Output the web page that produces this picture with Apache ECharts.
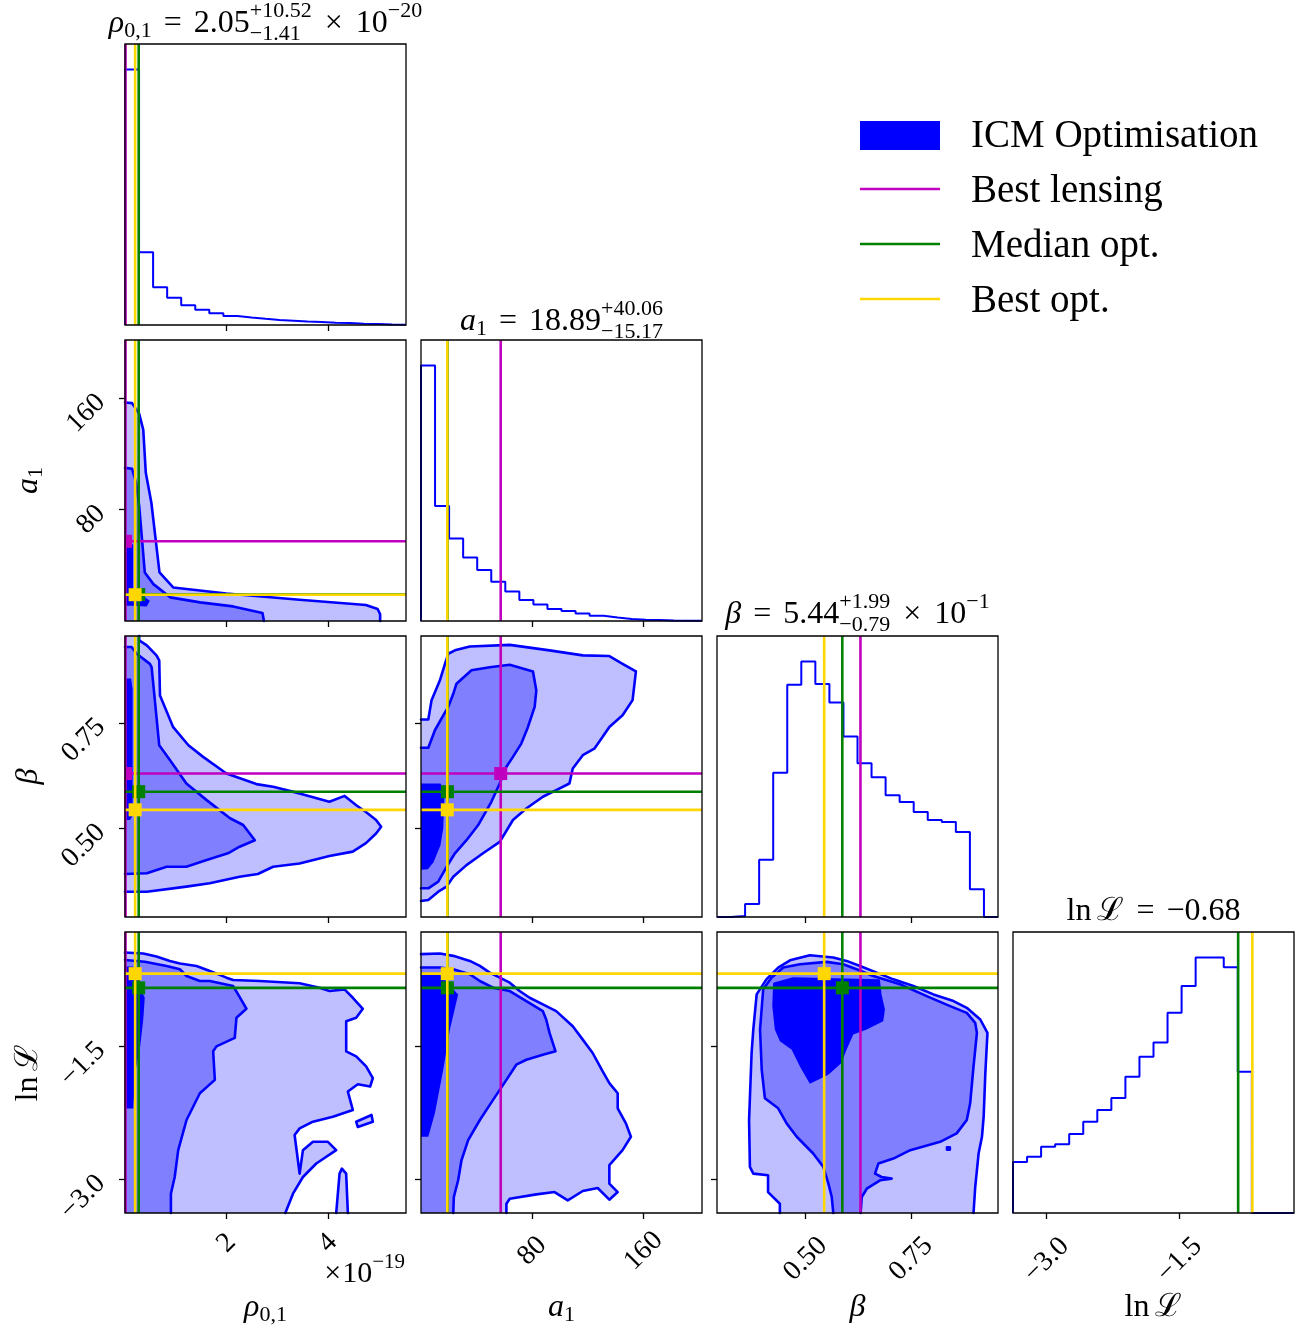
<!DOCTYPE html>
<html>
<head>
<meta charset="utf-8">
<script src="https://cdn.jsdelivr.net/npm/echarts@6/dist/echarts.min.js"></script>
<style>
  html, body { margin: 0; padding: 0; background: #fff; }
  #chart { width: 1304px; height: 1330px; }
</style>
</head>
<body>
<div id="chart"></div>
<script>
// ---------------- parameter ranges and ticks ----------------
// rho_{0,1} is expressed in units of 1e-19
const RHO_RANGE  = [0, 5.54];
const A1_RANGE   = [0, 202];
const BETA_RANGE = [0.29, 0.956];
const LNL_RANGE  = [-3.38, -0.21];

const RHO_TICKS  = [2, 4];
const A1_TICKS   = [80, 160];
const BETA_TICKS = [0.5, 0.75];
const LNL_TICKS  = [-3.0, -1.5];

// ---------------- marginal histograms (20 equal bins over each range, relative counts) ----------------
const RHO_HIST  = [1000, 285, 148, 107, 77, 60, 46, 35, 29, 24, 20, 17, 14, 12, 9, 8, 5, 4, 2, 1];
const A1_HIST   = [1000, 450, 323, 249, 200, 154, 115, 82, 65, 47, 39, 29, 21, 14, 8, 5, 4, 2, 1, 0.5];
const BETA_HIST = [0, 4, 51, 224, 565, 909, 1000, 912, 840, 707, 602, 547, 477, 450, 411, 380, 372, 333, 109, 0];
const LNL_HIST  = [200, 220, 259, 269, 309, 357, 403, 450, 533, 612, 667, 784, 889, 1000, 1000, 962, 553, 0, 0, 0];

// ---------------- reference points: [rho, a1, beta, lnL] ----------------
const BEST_LENSING = [0.01, 57.3, 0.630, null];
const MEDIAN_OPT   = [0.27, 19.0, 0.587, -0.84];
const BEST_OPT     = [0.20, 18.9, 0.544, -0.68];

// ---------------- 2-D credible regions (outer, middle, core) ----------------
// a1 vs rho
const RHO_A1_OUTER = [[0,157.1],[0.14,156.6],[0.28,149],[0.36,137.5],[0.41,106.5],[0.52,85],[0.68,34.9],[0.95,24.1],[2.0,19.8],[3.44,15.3],[4.75,11.5],[4.98,8.6],[5.03,5.0],[5.03,0],[0,0]];
const RHO_A1_MID   = [[0,110.1],[0.14,109.4],[0.22,99.4],[0.28,82.6],[0.33,61.1],[0.39,34.9],[0.56,26.5],[0.89,17],[1.48,13.4],[2.13,10.5],[2.71,5.7],[2.74,0],[0,0]];
const RHO_A1_CORE  = [[0,55.2],[0.16,55.2],[0.16,22.9],[0.49,14.5],[0.43,10.5],[0.13,11],[0,11]];

// beta vs rho
const RHO_BETA_OUTER = [[0,0.956],[0.28,0.956],[0.28,0.9455],[0.43,0.934],[0.62,0.910],[0.675,0.898],[0.69,0.815],[0.95,0.740],[1.25,0.697],[1.54,0.6695],[2.0,0.630],[2.59,0.605],[2.92,0.5985],[3.44,0.583],[4.03,0.563],[4.33,0.577],[4.56,0.555],[4.75,0.539],[4.95,0.520],[5.05,0.504],[4.95,0.488],[4.75,0.465],[4.49,0.445],[4.03,0.4345],[3.44,0.417],[2.92,0.409],[2.62,0.392],[2.26,0.3856],[1.67,0.370],[1.21,0.362],[0.43,0.350],[0,0.350]];
const RHO_BETA_MID   = [[0,0.930],[0.13,0.930],[0.23,0.914],[0.49,0.890],[0.525,0.882],[0.675,0.697],[0.885,0.662],[1.21,0.6065],[1.61,0.567],[2.07,0.524],[2.33,0.508],[2.56,0.472],[2.26,0.4566],[2.03,0.441],[1.61,0.425],[1.21,0.409],[0.82,0.409],[0.43,0.3936],[0,0.392]];
const RHO_BETA_CORE  = [[0,0.855],[0.12,0.855],[0.15,0.83],[0.15,0.53],[0.1,0.52],[0,0.52]];

// beta vs a1
const A1_BETA_OUTER = [[0,0.758],[5.25,0.758],[7.6,0.804],[13.6,0.851],[17.2,0.890],[19.6,0.914],[24.4,0.922],[35.1,0.931],[63.8,0.935],[92.4,0.922],[116.3,0.910],[135.4,0.9085],[144.9,0.890],[154.5,0.872],[152.1,0.804],[144.9,0.768],[135.4,0.7405],[130.6,0.717],[124.6,0.689],[116.3,0.6735],[109.1,0.642],[106.7,0.6064],[97.2,0.5907],[87.6,0.575],[75.7,0.547],[66.1,0.520],[56.6,0.468],[44.6,0.441],[32.7,0.413],[23.2,0.3856],[18.4,0.362],[12.4,0.350],[5.25,0.3304],[0,0.328]];
const A1_BETA_MID   = [[0,0.691],[5.25,0.691],[10.0,0.7326],[16.0,0.768],[19.6,0.788],[23.2,0.819],[25.5,0.843],[36.3,0.875],[49.4,0.882],[63.8,0.888],[80.5,0.872],[82.9,0.827],[81.7,0.788],[76.9,0.7405],[72.1,0.701],[66.1,0.6695],[61.4,0.646],[56.6,0.6064],[50.6,0.563],[41.1,0.508],[32.7,0.472],[24.4,0.441],[18.4,0.409],[12.4,0.374],[5.25,0.358],[0,0.358]];
const A1_BETA_CORE  = [[0,0.6064],[14,0.6064],[17,0.59],[16,0.50],[14,0.46],[9,0.42],[5,0.403],[0,0.402]];

// lnL vs rho
const RHO_LNL_OUTER  = [[0,-0.441],[0.36,-0.453],[0.62,-0.487],[0.885,-0.536],[1.082,-0.566],[1.41,-0.593],[1.672,-0.649],[2.0,-0.725],[2.131,-0.751],[2.656,-0.763],[3.443,-0.789],[3.836,-0.838],[4.033,-0.876],[4.328,-0.857],[4.492,-0.952],[4.689,-1.076],[4.558,-1.178],[4.361,-1.216],[4.361,-1.556],[4.558,-1.613],[4.754,-1.726],[4.886,-1.859],[4.833,-1.953],[4.59,-1.927],[4.394,-2.010],[4.492,-2.218],[4.099,-2.293],[3.705,-2.350],[3.443,-2.425],[3.344,-2.5],[3.443,-2.936],[3.508,-2.671],[3.705,-2.577],[4.0,-2.577],[4.164,-2.671],[3.771,-2.822],[3.508,-2.974],[3.312,-3.162],[3.161,-3.38],[0,-3.38]];
const RHO_LNL_ISLAND = [[4.558,-2.35],[4.86,-2.274],[4.886,-2.35],[4.59,-2.41]];
const RHO_LNL_SPIKE  = [[4.164,-3.38],[4.23,-2.936],[4.276,-2.879],[4.36,-2.936],[4.394,-3.38]];
const RHO_LNL_MID    = [[0,-0.525],[0.39,-0.545],[0.82,-0.593],[1.082,-0.630],[1.213,-0.706],[1.476,-0.763],[1.672,-0.763],[2.131,-0.819],[2.23,-0.914],[2.394,-1.076],[2.197,-1.178],[2.164,-1.405],[1.803,-1.5],[1.738,-1.556],[1.771,-1.878],[1.476,-2.029],[1.213,-2.331],[1.049,-2.671],[0.98,-2.974],[0.905,-3.162],[0.905,-3.38],[0,-3.38]];
const RHO_LNL_CORE   = [[0,-0.60],[0.16,-0.60],[0.30,-0.85],[0.39,-0.95],[0.36,-1.2],[0.30,-1.5],[0.2,-1.8],[0.164,-2.2],[0,-2.2]];

// lnL vs a1
const A1_LNL_OUTER = [[0,-0.460],[13.6,-0.453],[23.2,-0.479],[35.1,-0.536],[42.3,-0.593],[49.4,-0.668],[56.6,-0.725],[63.8,-0.782],[70.9,-0.876],[78.1,-0.952],[87.6,-1.027],[97.2,-1.103],[109.1,-1.273],[116.3,-1.424],[123.4,-1.575],[130.6,-1.783],[135.4,-1.915],[141.4,-2.029],[141.4,-2.199],[147.3,-2.369],[150.9,-2.520],[144.9,-2.671],[135.4,-2.841],[135.4,-3.049],[141.4,-3.144],[135.4,-3.230],[127.0,-3.098],[116.3,-3.132],[105.5,-3.238],[96.0,-3.144],[82.9,-3.170],[63.8,-3.219],[61.4,-3.276],[61.4,-3.38],[0,-3.38]];
const A1_LNL_MID   = [[0,-0.611],[13.6,-0.611],[23.2,-0.630],[35.1,-0.687],[42.3,-0.763],[51.8,-0.838],[63.8,-0.876],[75.7,-0.989],[87.6,-1.103],[90.0,-1.197],[92.4,-1.348],[96.7,-1.556],[87.6,-1.594],[75.7,-1.651],[68.5,-1.707],[61.4,-1.878],[51.8,-2.104],[42.3,-2.331],[33.9,-2.558],[29.1,-2.785],[26.7,-3.011],[23.6,-3.200],[23.2,-3.38],[0,-3.38]];
const A1_LNL_CORE  = [[0,-0.687],[13.6,-0.687],[23.2,-0.857],[26.7,-0.914],[20.8,-1.311],[16.0,-1.764],[10.0,-2.255],[5.25,-2.520],[0,-2.520]];

// lnL vs beta
const BETA_LNL_OUTER = [[0.439,-3.38],[0.439,-3.276],[0.411,-3.144],[0.411,-2.955],[0.376,-2.936],[0.368,-2.860],[0.366,-2.331],[0.372,-1.575],[0.376,-1.311],[0.384,-0.914],[0.407,-0.744],[0.435,-0.611],[0.463,-0.530],[0.510,-0.472],[0.5656,-0.498],[0.597,-0.536],[0.629,-0.593],[0.6685,-0.668],[0.708,-0.744],[0.7555,-0.819],[0.803,-0.914],[0.8505,-0.989],[0.882,-1.065],[0.914,-1.197],[0.931,-1.348],[0.926,-1.802],[0.922,-2.293],[0.918,-2.520],[0.910,-2.709],[0.902,-3.087],[0.898,-3.38]];
const BETA_LNL_MID   = [[0.5656,-3.38],[0.562,-3.200],[0.554,-3.049],[0.542,-2.860],[0.518,-2.709],[0.479,-2.520],[0.455,-2.369],[0.435,-2.199],[0.4035,-2.085],[0.396,-1.764],[0.392,-1.311],[0.3995,-0.857],[0.419,-0.725],[0.447,-0.611],[0.4865,-0.574],[0.550,-0.547],[0.589,-0.574],[0.621,-0.630],[0.6605,-0.706],[0.724,-0.800],[0.787,-0.933],[0.8425,-1.046],[0.882,-1.122],[0.902,-1.235],[0.906,-1.348],[0.898,-1.726],[0.890,-2.142],[0.882,-2.331],[0.858,-2.482],[0.819,-2.577],[0.748,-2.671],[0.708,-2.766],[0.6725,-2.822],[0.6645,-2.936],[0.680,-2.974],[0.704,-2.992],[0.6764,-3.011],[0.645,-3.106],[0.633,-3.200],[0.6305,-3.38]];
const BETA_LNL_CORE  = [[0.423,-0.782],[0.47,-0.72],[0.676,-0.744],[0.68,-0.914],[0.688,-1.084],[0.684,-1.216],[0.645,-1.311],[0.613,-1.367],[0.597,-1.537],[0.585,-1.689],[0.554,-1.821],[0.510,-1.923],[0.4865,-1.726],[0.467,-1.537],[0.439,-1.443],[0.427,-1.311],[0.421,-1.046]];
const BETA_LNL_DOT   = [[0.835,-2.64],[0.842,-2.64],[0.842,-2.665],[0.835,-2.665]];

// ---------------- text ----------------
const TITLE_ROWS = [
  [{t:'ρ', it:true}, {sub:'0,1'}, {gap:12}, {t:'='}, {gap:12}, {t:'2.05'}, {sup:'+10.52', sub:'\u22121.41'}, {gap:13}, {t:'×'}, {gap:13}, {t:'10'}, {sup:'\u221220'}],
  [{t:'a', it:true}, {sub:'1'}, {gap:12}, {t:'='}, {gap:12}, {t:'18.89'}, {sup:'+40.06', sub:'\u221215.17'}],
  [{t:'β', it:true}, {gap:12}, {t:'='}, {gap:12}, {t:'5.44'}, {sup:'+1.99', sub:'\u22120.79'}, {gap:13}, {t:'×'}, {gap:13}, {t:'10'}, {sup:'\u22121'}],
  [{t:'ln'}, {gap:6}, {t:'ℒ'}, {gap:12}, {t:'='}, {gap:12}, {t:'\u22120.68'}]
];
const AXIS_NAMES = [
  [{t:'ρ', it:true}, {sub:'0,1'}],
  [{t:'a', it:true}, {sub:'1'}],
  [{t:'β', it:true}],
  [{t:'ln'}, {gap:6}, {t:'ℒ'}]
];
const OFFSET_TEXT = [{t:'×'}, {gap:1}, {t:'10'}, {sup:'\u221219'}];
const LEGEND_LABELS = ['ICM Optimisation', 'Best lensing', 'Median opt.', 'Best opt.'];

// ---------------- styling / layout ----------------
const SERIF = '"Liberation Serif", "DejaVu Serif", serif';
const C_BLUE = '#0000ff', C_MID = '#8080ff', C_LIGHT = '#bfbfff';
const C_MAGENTA = '#bf00bf', C_GREEN = '#008000', C_GOLD = '#ffd700';
const COL_LEFT = [125, 421, 717, 1013];
const ROW_TOP = [44, 340, 636, 932];
const CELL = 281;
const COL_CENTER = COL_LEFT.map(v => v + CELL / 2);
const ROW_CENTER = ROW_TOP.map(v => v + CELL / 2);
const TICK_FONT = 28;
const TITLE_FONT = 32;

const RANGES = [RHO_RANGE, A1_RANGE, BETA_RANGE, LNL_RANGE];
const TICKS = [RHO_TICKS, A1_TICKS, BETA_TICKS, LNL_TICKS];
const HISTS = [RHO_HIST, A1_HIST, BETA_HIST, LNL_HIST];
const fmtMinus = s => s.replace('-', '\u2212');
const LABEL_FMT = [v => String(v), v => String(v), v => v.toFixed(2), v => fmtMinus(v.toFixed(1))];
const X_LABEL_MARGIN = [30, 38, 46, 47];

// contour sets per lower panel: key "row,col" -> list of [polygon, fill, stroked]
const REGIONS = {
  '1,0': [[RHO_A1_OUTER, C_LIGHT, true], [RHO_A1_MID, C_MID, true], [RHO_A1_CORE, C_BLUE, false]],
  '2,0': [[RHO_BETA_OUTER, C_LIGHT, true], [RHO_BETA_MID, C_MID, true], [RHO_BETA_CORE, C_BLUE, false]],
  '2,1': [[A1_BETA_OUTER, C_LIGHT, true], [A1_BETA_MID, C_MID, true], [A1_BETA_CORE, C_BLUE, false]],
  '3,0': [[RHO_LNL_OUTER, C_LIGHT, true], [RHO_LNL_ISLAND, C_LIGHT, true], [RHO_LNL_SPIKE, C_LIGHT, true], [RHO_LNL_MID, C_MID, true], [RHO_LNL_CORE, C_BLUE, false]],
  '3,1': [[A1_LNL_OUTER, C_LIGHT, true], [A1_LNL_MID, C_MID, true], [A1_LNL_CORE, C_BLUE, false]],
  '3,2': [[BETA_LNL_OUTER, C_LIGHT, true], [BETA_LNL_MID, C_MID, true], [BETA_LNL_CORE, C_BLUE, false], [BETA_LNL_DOT, C_MID, true]]
};
const REFERENCES = [[BEST_LENSING, C_MAGENTA], [MEDIAN_OPT, C_GREEN], [BEST_OPT, C_GOLD]];

// ---------------- series builders ----------------
function regionSeries(g, pts, fill, stroked, xr, yr) {
  const onFrame = (a, b) =>
    (a[0] === b[0] && (a[0] === xr[0] || a[0] === xr[1])) ||
    (a[1] === b[1] && (a[1] === yr[0] || a[1] === yr[1]));
  const line = P => ({ type: 'polyline', shape: { points: P },
    style: { fill: 'none', stroke: C_BLUE, lineWidth: 2.6, lineJoin: 'round', lineCap: 'round' } });
  return {
    type: 'custom', xAxisIndex: g, yAxisIndex: g, data: pts, silent: true, animation: false, z: 2,
    renderItem(params, api) {
      if (params.dataIndex !== 0) return null;
      const P = pts.map(p => api.coord(p));
      const children = [{ type: 'polygon', shape: { points: P }, style: { fill, stroke: 'none' } }];
      if (stroked) {
        const n = pts.length;
        let run = [P[0]];
        for (let k = 0; k < n; k++) {
          const k2 = (k + 1) % n;
          if (onFrame(pts[k], pts[k2])) {
            if (run.length > 1) children.push(line(run));
            run = [P[k2]];
          } else {
            run.push(P[k2]);
          }
        }
        if (run.length > 1) children.push(line(run));
      }
      return { type: 'group', children };
    }
  };
}

function guideSeries(g, xv, yv, color, xr, yr) {
  return {
    type: 'custom', xAxisIndex: g, yAxisIndex: g, silent: true, animation: false, z: 4,
    data: [[xv == null ? xr[0] : xv, yv == null ? yr[0] : yv]],
    renderItem(params, api) {
      const cs = params.coordSys;
      const kids = [];
      const st = { stroke: color, lineWidth: 2.6, fill: 'none' };
      if (xv != null) {
        const px = api.coord([xv, yr[0]])[0];
        kids.push({ type: 'line', shape: { x1: px, y1: cs.y, x2: px, y2: cs.y + cs.height }, style: st });
      }
      if (yv != null) {
        const py = api.coord([xr[0], yv])[1];
        kids.push({ type: 'line', shape: { x1: cs.x, y1: py, x2: cs.x + cs.width, y2: py }, style: st });
      }
      if (xv != null && yv != null) {
        const p = api.coord([xv, yv]);
        const r = echarts.graphic.clipRectByRect(
          { x: p[0] - 6.5, y: p[1] - 6.5, width: 13, height: 13 },
          { x: cs.x, y: cs.y, width: cs.width, height: cs.height });
        if (r) kids.push({ type: 'rect', shape: r, style: { fill: color } });
      }
      return { type: 'group', children: kids };
    }
  };
}

function histSeries(g, c) {
  const r = RANGES[c], counts = HISTS[c], nb = counts.length;
  const edge = i => r[0] + i * (r[1] - r[0]) / nb;
  const pts = [[edge(0), 0]];
  counts.forEach((v, i) => { pts.push([edge(i), v], [edge(i + 1), v]); });
  pts.push([edge(nb), 0]);
  return { type: 'line', xAxisIndex: g, yAxisIndex: g, data: pts, symbol: 'none', silent: true,
    animation: false, z: 3, lineStyle: { color: C_BLUE, width: 2 } };
}

// ---------------- grids, axes, series ----------------
const grids = [], xAxes = [], yAxes = [], series = [];
const tickStyle = { show: true, length: 6, inside: false, lineStyle: { color: '#000', width: 1.3 } };
let g = 0;
for (let r = 0; r < 4; r++) {
  for (let c = 0; c <= r; c++) {
    grids.push({ left: COL_LEFT[c], top: ROW_TOP[r], width: CELL, height: CELL, show: true,
      borderColor: '#000', borderWidth: 1.3, backgroundColor: 'rgba(0,0,0,0)', z: 10 });
    xAxes.push({ gridIndex: g, type: 'value', min: RANGES[c][0], max: RANGES[c][1],
      axisLine: { show: false }, splitLine: { show: false },
      axisTick: Object.assign({ customValues: TICKS[c] }, tickStyle),
      axisLabel: { show: r === 3, customValues: TICKS[c], formatter: LABEL_FMT[c], rotate: 45,
        align: 'center', verticalAlign: 'middle', margin: X_LABEL_MARGIN[c],
        fontFamily: SERIF, fontSize: TICK_FONT, color: '#000' } });
    if (r === c) {
      yAxes.push({ gridIndex: g, type: 'value', min: 0, max: 1.1 * Math.max(...HISTS[c]), show: false });
      series.push(histSeries(g, c));
      REFERENCES.forEach(([ref, col]) => {
        if (ref[c] != null) series.push(guideSeries(g, ref[c], null, col, RANGES[c], [0, 1]));
      });
    } else {
      yAxes.push({ gridIndex: g, type: 'value', min: RANGES[r][0], max: RANGES[r][1],
        axisLine: { show: false }, splitLine: { show: false },
        axisTick: Object.assign({ customValues: TICKS[r] }, tickStyle),
        axisLabel: { show: c === 0, customValues: TICKS[r], formatter: LABEL_FMT[r], rotate: 45,
          align: 'right', verticalAlign: 'middle', margin: 24,
          fontFamily: SERIF, fontSize: TICK_FONT, color: '#000' } });
      REGIONS[r + ',' + c].forEach(([pts, fill, stroked]) =>
        series.push(regionSeries(g, pts, fill, stroked, RANGES[c], RANGES[r])));
      REFERENCES.forEach(([ref, col]) => {
        if (ref[c] != null || ref[r] != null) series.push(guideSeries(g, ref[c], ref[r], col, RANGES[c], RANGES[r]));
      });
    }
    g++;
  }
}

// ---------------- typeset text (sub/superscripts laid out by measured width) ----------------
const measureCtx = document.createElement('canvas').getContext('2d');
const fontStr = (size, italic) => (italic ? 'italic ' : '') + size + 'px ' + SERIF;
function textWidth(t, size, italic) { measureCtx.font = fontStr(size, italic); return measureCtx.measureText(t).width; }
function textEl(t, x, baseline, size, italic) {
  return { type: 'text', x: x, y: baseline - 0.30 * size, silent: true,
    style: { text: t, font: fontStr(size, italic), fill: '#000',
      align: 'left', verticalAlign: 'middle', textAlign: 'left', textVerticalAlign: 'middle' } };
}
function typeset(items, size, x, baseline, anchor, rotation) {
  const s = Math.round(size * 0.7);
  const els = [];
  let cx = 0;
  items.forEach(it => {
    if (it.gap) { cx += it.gap; return; }
    if (it.t) { els.push(textEl(it.t, cx, 0, size, it.it)); cx += textWidth(it.t, size, it.it); return; }
    let w = 0;
    if (it.sup) { els.push(textEl(it.sup, cx, -0.46 * size, s)); w = Math.max(w, textWidth(it.sup, s)); }
    if (it.sub) { els.push(textEl(it.sub, cx, (it.sup ? 0.24 : 0.16) * size, s)); w = Math.max(w, textWidth(it.sub, s)); }
    cx += w;
  });
  const off = anchor === 'center' ? -cx / 2 : anchor === 'right' ? -cx : 0;
  els.forEach(e => { e.x += off; });
  return { type: 'group', x: x, y: baseline, rotation: rotation || 0, children: els };
}

const graphics = [];
const TITLE_BASELINE = [33, 331, 624, 921];
TITLE_ROWS.forEach((items, k) => graphics.push(typeset(items, TITLE_FONT, COL_CENTER[k], TITLE_BASELINE[k], 'center')));
AXIS_NAMES.forEach((items, k) => graphics.push(typeset(items, TITLE_FONT, COL_CENTER[k], 1317, 'center')));
AXIS_NAMES.slice(1).forEach((items, k) => graphics.push(typeset(items, TITLE_FONT, 38, ROW_CENTER[k + 1], 'center', Math.PI / 2)));
graphics.push(typeset(OFFSET_TEXT, 30, 405, 1283, 'right'));

// legend
graphics.push({ type: 'rect', shape: { x: 860, y: 121, width: 80, height: 29 }, style: { fill: C_BLUE }, silent: true });
[C_MAGENTA, C_GREEN, C_GOLD].forEach((col, k) => {
  const y = 189 + 55 * k;
  graphics.push({ type: 'line', shape: { x1: 860, y1: y, x2: 940, y2: y }, style: { stroke: col, lineWidth: 2.6 }, silent: true });
});
LEGEND_LABELS.forEach((label, k) => graphics.push(typeset([{ t: label }], 39, 971, 148 + 55 * k, 'left')));

const chart = echarts.init(document.getElementById('chart'), null, { renderer: 'canvas', width: 1304, height: 1330 });
chart.setOption({
  animation: false,
  backgroundColor: '#fff',
  grid: grids,
  xAxis: xAxes,
  yAxis: yAxes,
  series: series,
  graphic: { elements: graphics }
});
</script>
</body>
</html>
